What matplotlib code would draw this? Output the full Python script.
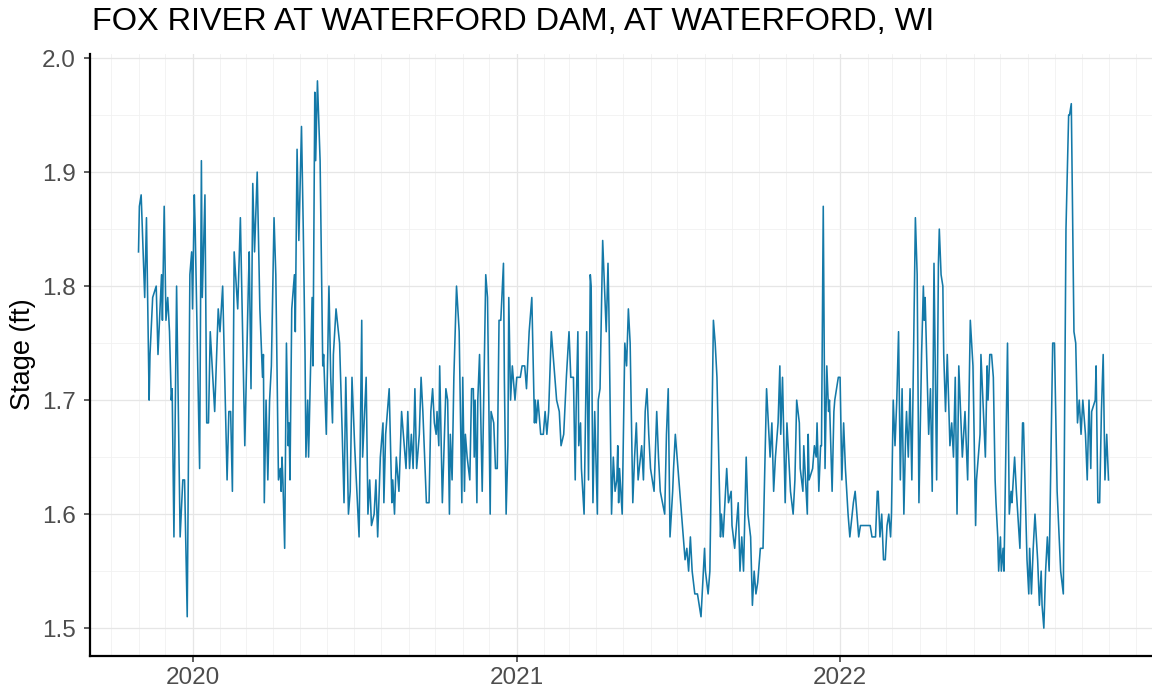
import numpy as np
import pandas as pd
import matplotlib
matplotlib.use("Agg")
import matplotlib.pyplot as plt
import matplotlib.dates as mdates

# gage stage (days since start, feet)
start = "2019-11-01"
day = [
    0, 1, 3, 7, 9, 12, 13, 16, 20, 22, 26, 27, 29, 31, 33, 35, 37, 38, 40, 43,
    47, 50, 52, 55, 58, 60, 61, 63, 64, 69, 71, 72, 75, 77, 79, 81, 86, 90, 92, 95,
    100, 102, 104, 106, 108, 112, 115, 120, 124, 125, 127, 129, 131, 134, 137, 140, 141, 142,
    144, 146, 148, 150, 153, 155, 158, 160, 161, 162, 163, 165, 167, 169, 170, 171, 173, 176,
    177, 179, 181, 184, 186, 188, 189, 191, 192, 196, 197, 199, 200, 202, 205, 208, 209, 212,
    215, 217, 219, 220, 223, 227, 230, 232, 234, 237, 239, 241, 244, 249, 252, 253, 257, 259,
    261, 263, 266, 268, 270, 273, 276, 277, 279, 283, 286, 287, 289, 291, 294, 297, 301, 302,
    304, 306, 308, 310, 312, 314, 317, 319, 321, 325, 328, 330, 332,
    334, 336, 337, 339, 340, 343, 347, 349, 351, 352, 354, 356, 359, 362, 365, 366, 368, 369,
    371, 374, 376, 378, 379, 380, 382, 383, 385, 388, 392, 394, 397, 398, 401, 403, 405, 407,
    409, 412, 413, 415, 417, 418, 420, 422, 425, 427, 431, 433, 436, 438, 441, 444, 447, 448,
    449, 451, 454, 457, 459, 461, 463, 466, 469, 472, 475, 477, 480, 483, 486, 488, 491, 493,
    494, 496, 497, 499, 500, 503, 506, 508, 510, 511, 513, 515, 518, 519, 521, 524, 526, 528,
    530, 531, 534, 536, 538,
    540, 541, 542, 543, 546, 549, 551, 553, 555, 558, 560, 562, 564, 568, 570, 572, 574, 576,
    578, 582, 585, 587, 589, 594, 596, 598, 600, 603, 604, 606, 609, 613, 617, 619, 621, 623,
    625, 628, 631, 635, 637, 639, 640, 643, 645, 649, 651, 653, 657, 658, 660, 662, 664, 666,
    669, 670, 673, 677, 679, 681, 683, 686, 688, 691, 693, 695, 697, 699, 702, 705, 707, 709,
    711, 713, 715, 717, 719, 722, 724, 725, 727, 730, 732, 734, 736, 739, 741,
    743, 746, 747, 750, 751, 755, 756, 757, 761, 763, 765, 766, 768, 770, 771, 773, 775, 777,
    779, 780, 783, 785, 786, 788, 790, 792, 794, 796, 798, 801, 803, 807, 809, 811, 813, 815,
    826, 828, 832, 834, 835, 837, 839, 841, 843, 845, 847, 849, 850, 852, 854, 856, 858, 860,
    862, 864, 866, 867, 869, 871, 873, 877, 879, 881, 884, 886, 887, 888, 892, 894, 896, 898,
    901, 903, 904, 906, 908, 909, 911, 913, 916, 918, 920, 922, 924, 926, 928, 930, 933, 936,
    939, 942, 945,
    946, 950, 951, 956, 958, 959, 961, 963, 965, 967, 968, 970, 971, 973, 974, 976, 977, 981,
    983, 985, 986, 989, 991, 995, 998, 999, 1003, 1005, 1006, 1008, 1010, 1012, 1015, 1017,
    1019, 1020, 1022, 1024, 1026, 1028, 1032, 1034, 1037, 1041, 1044, 1047, 1050, 1051, 1053,
    1056, 1058, 1060, 1062, 1064, 1066, 1069, 1071, 1073, 1075, 1076, 1080, 1081, 1083, 1085,
    1087, 1089, 1091, 1093, 1095,
]
stage = [
    1.83, 1.87, 1.88, 1.79, 1.86, 1.70, 1.74, 1.79, 1.80, 1.74, 1.81, 1.77, 1.87, 1.77, 1.79, 1.76, 1.70, 1.71, 1.58, 1.80,
    1.58, 1.63, 1.63, 1.51, 1.81, 1.83, 1.78, 1.88, 1.85, 1.64, 1.91, 1.79, 1.88, 1.68, 1.68, 1.76, 1.69, 1.78, 1.76, 1.80,
    1.63, 1.69, 1.69, 1.62, 1.83, 1.78, 1.86, 1.66, 1.80, 1.83, 1.71, 1.89, 1.83, 1.90, 1.78, 1.72, 1.74, 1.61,
    1.70, 1.63, 1.70, 1.73, 1.86, 1.81, 1.63, 1.64, 1.62, 1.65, 1.63, 1.57, 1.75, 1.66, 1.68, 1.63, 1.78, 1.81,
    1.76, 1.92, 1.84, 1.94, 1.85, 1.74, 1.65, 1.70, 1.65, 1.79, 1.73, 1.97, 1.91, 1.98, 1.91, 1.73, 1.74, 1.67,
    1.80, 1.72, 1.68, 1.74, 1.78, 1.75, 1.67, 1.61, 1.72, 1.60, 1.62, 1.72, 1.66, 1.58, 1.77, 1.65, 1.72, 1.60,
    1.63, 1.59, 1.60, 1.63, 1.58, 1.65, 1.68, 1.61, 1.67, 1.71, 1.61, 1.63, 1.60, 1.65, 1.62, 1.69, 1.65, 1.64,
    1.69, 1.64, 1.67, 1.64, 1.71, 1.64, 1.67, 1.72, 1.69, 1.61, 1.61, 1.69, 1.71,
    1.68, 1.67, 1.69, 1.66, 1.73, 1.61, 1.71, 1.70, 1.60, 1.67, 1.63, 1.72, 1.80, 1.76, 1.61, 1.72, 1.62, 1.67,
    1.65, 1.63, 1.71, 1.71, 1.65, 1.70, 1.61, 1.70, 1.74, 1.62, 1.81, 1.79, 1.60, 1.69, 1.68, 1.64, 1.64, 1.77,
    1.77, 1.82, 1.72, 1.60, 1.66, 1.79, 1.70, 1.73, 1.70, 1.72, 1.72, 1.73, 1.73, 1.71, 1.76, 1.79, 1.68, 1.70,
    1.68, 1.70, 1.67, 1.67, 1.69, 1.67, 1.69, 1.76, 1.73, 1.70, 1.69, 1.66, 1.67, 1.72, 1.76, 1.72, 1.72, 1.63,
    1.69, 1.76, 1.66, 1.68, 1.64, 1.60, 1.76, 1.63, 1.81, 1.80, 1.61, 1.69, 1.60, 1.70, 1.71, 1.84, 1.80, 1.76,
    1.82, 1.78, 1.60, 1.65, 1.62,
    1.63, 1.66, 1.61, 1.64, 1.60, 1.75, 1.73, 1.78, 1.75, 1.61, 1.65, 1.68, 1.63, 1.66, 1.63, 1.69, 1.71, 1.67,
    1.64, 1.62, 1.69, 1.65, 1.62, 1.60, 1.67, 1.71, 1.58, 1.62, 1.64, 1.67, 1.64, 1.60, 1.56, 1.57, 1.55, 1.58,
    1.55, 1.53, 1.53, 1.51, 1.54, 1.57, 1.55, 1.53, 1.55, 1.77, 1.75, 1.72, 1.58, 1.60, 1.58, 1.61, 1.64, 1.61,
    1.62, 1.59, 1.57, 1.61, 1.55, 1.58, 1.55, 1.65, 1.60, 1.58, 1.52, 1.55, 1.53, 1.54, 1.57, 1.57, 1.64, 1.71,
    1.68, 1.65, 1.68, 1.62, 1.65, 1.68, 1.73, 1.67, 1.72, 1.61, 1.68, 1.65, 1.62, 1.60, 1.63,
    1.70, 1.68, 1.64, 1.62, 1.66, 1.60, 1.67, 1.63, 1.64, 1.66, 1.65, 1.68, 1.62, 1.66, 1.66, 1.87, 1.64, 1.73,
    1.69, 1.70, 1.62, 1.69, 1.70, 1.71, 1.72, 1.72, 1.63, 1.68, 1.64, 1.60, 1.58, 1.61, 1.62, 1.60, 1.58, 1.59,
    1.59, 1.58, 1.58, 1.62, 1.62, 1.58, 1.60, 1.56, 1.56, 1.59, 1.60, 1.58, 1.60, 1.70, 1.66, 1.70, 1.76, 1.63,
    1.71, 1.60, 1.67, 1.69, 1.65, 1.71, 1.63, 1.86, 1.81, 1.61, 1.74, 1.80, 1.77, 1.79, 1.67, 1.71, 1.62, 1.82,
    1.63, 1.82, 1.85, 1.81, 1.80, 1.74, 1.69, 1.74, 1.66, 1.68, 1.65, 1.72, 1.60, 1.73, 1.69, 1.65, 1.69, 1.63,
    1.77, 1.73, 1.59,
    1.63, 1.67, 1.74, 1.65, 1.73, 1.70, 1.74, 1.74, 1.72, 1.63, 1.61, 1.58, 1.55, 1.58, 1.55, 1.57, 1.55, 1.75,
    1.60, 1.62, 1.61, 1.65, 1.62, 1.57, 1.68, 1.68, 1.56, 1.53, 1.57, 1.53, 1.57, 1.60, 1.56, 1.52,
    1.55, 1.52, 1.50, 1.55, 1.58, 1.55, 1.75, 1.75, 1.62, 1.55, 1.53, 1.85, 1.95, 1.95, 1.96,
    1.76, 1.75, 1.68, 1.70, 1.67, 1.70, 1.67, 1.63, 1.70, 1.64, 1.69, 1.70, 1.73, 1.61, 1.61,
    1.69, 1.74, 1.63, 1.67, 1.63,
]

dates = pd.Timestamp(start) + pd.to_timedelta(day, unit="D")

plt.rcParams["font.family"] = ["Liberation Sans", "DejaVu Sans"]

fig = plt.figure(figsize=(11.52, 6.94), dpi=100)
ax = fig.add_axes([90 / 1152, 38.5 / 694, 1067 / 1152, 602 / 694])

ax.plot(dates, stage, color="#1479a8", lw=1.15)

t0 = pd.Timestamp(start)
span = dates[-1] - t0
ax.set_xlim(t0 - span * 0.05, dates[-1] + span * 0.05)
ax.set_ylim(1.476, 2.004)

ax.xaxis.set_major_locator(mdates.YearLocator())
ax.xaxis.set_major_formatter(mdates.DateFormatter("%Y"))
ax.xaxis.set_minor_locator(mdates.MonthLocator())
ax.set_yticks([1.5, 1.6, 1.7, 1.8, 1.9, 2.0])
ax.set_yticks(np.arange(1.55, 2.0, 0.1), minor=True)

ax.grid(which="major", color="#e6e6e6", lw=0.9)
ax.grid(which="minor", color="#f1f1f1", lw=0.6)
ax.set_axisbelow(True)

for s in ["top", "right"]:
    ax.spines[s].set_visible(False)
for s in ["left", "bottom"]:
    ax.spines[s].set_linewidth(1.6)
    ax.spines[s].set_color("black")

ax.tick_params(which="major", length=4.5, width=1.1, color="#333333",
               labelsize=17.5, labelcolor="#4d4d4d")
ax.tick_params(which="minor", length=0)
ax.tick_params(axis="x", pad=3.5)
ax.tick_params(axis="y", pad=5.5)

ax.set_ylabel("Stage (ft)", fontsize=19.5)
ax.yaxis.set_label_coords(-0.051, 0.5)
fig.text(92 / 1152, 1 - 22 / 694, "FOX RIVER AT WATERFORD DAM, AT WATERFORD, WI",
         fontsize=23.4, va="center", ha="left")

fig.savefig("out.png", dpi=100)
